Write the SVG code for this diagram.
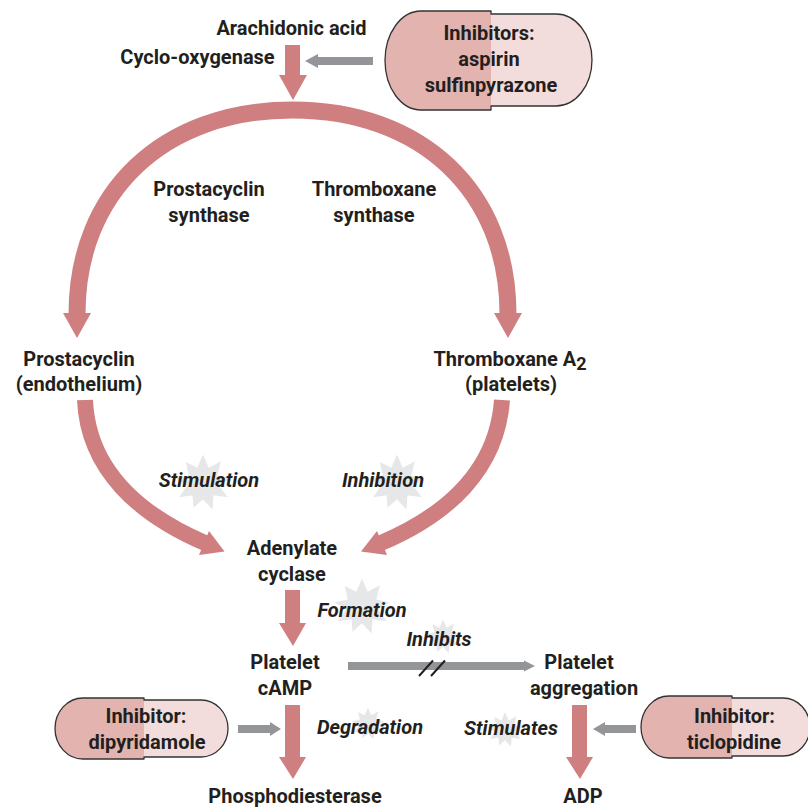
<svg xmlns="http://www.w3.org/2000/svg" width="808" height="811" viewBox="0 0 808 811">
  <style>
    text { font-family: Roboto, "Open Sans", "DejaVu Sans", sans-serif; font-weight: 700; font-size: 20px; fill: #231f20; text-anchor: middle; }
    .it { font-style: italic; }
    .red { fill: #cf7f7f; }
    .redline { fill: none; stroke: #cf7f7f; stroke-width: 17; }
    .gray { fill: #939598; }
    .star { fill: #e6e7e8; }
    .pillL { fill: #e3b4af; }
    .pillR { fill: #f3dddc; }
    .pillO { fill: none; stroke: #333333; stroke-width: 1.3; stroke-linejoin: round; }
    .slash { stroke: #231f20; stroke-width: 2; }
  </style>
  <defs>
    <polygon id="burst" points="0,-30 6,-16 19,-23 15,-8 29,-5 17,3 26,15 11,13 10,28 0,17 -10,26 -11,13 -25,15 -17,3 -29,-5 -15,-8 -18,-22 -6,-16"/>
  </defs>
  <rect width="808" height="811" fill="#ffffff"/>

  <!-- background bursts behind the effect labels -->
  <g id="bursts">
    <use href="#burst" class="star" transform="translate(203,483) scale(0.95)"/>
    <use href="#burst" class="star" transform="translate(397,483) scale(0.95)"/>
    <use href="#burst" class="star" transform="translate(362,607) scale(0.95)"/>
    <use href="#burst" class="star" transform="translate(443,637) scale(0.58)"/>
    <use href="#burst" class="star" transform="translate(368,724) scale(0.55)"/>
    <use href="#burst" class="star" transform="translate(505,730) scale(0.6)"/>
  </g>

  <!-- connectors -->
  <g id="connectors">
    <!-- arachidonic acid down to the synthase arc -->
    <rect class="red" x="285" y="45" width="15" height="31"/>
    <polygon class="red" points="279,75 307,75 293,100"/>
    <!-- arc splitting to prostacyclin and thromboxane -->
    <path class="redline" d="M77,314 C77,192 163,110 292.5,110 C422,110 508,192 508,314"/>
    <polygon class="red" points="63,313 91,313 77,338"/>
    <polygon class="red" points="494,313 522,313 508,338"/>
    <!-- prostacyclin to adenylate cyclase -->
    <path class="redline" style="stroke-width:16" d="M85,400 C88,470 140,515 205,543"/>
    <polygon class="red" points="209,531 199,555 224.5,551.5"/>
    <!-- thromboxane to adenylate cyclase -->
    <path class="redline" style="stroke-width:16" d="M502,400 C497,470 447,515 381,543"/>
    <polygon class="red" points="377,531 387,555 361,551.5"/>
    <!-- adenylate cyclase to cAMP -->
    <rect class="red" x="285" y="590" width="15" height="35"/>
    <polygon class="red" points="279,623 306,623 293,646"/>
    <!-- cAMP to phosphodiesterase -->
    <rect class="red" x="285" y="705" width="15" height="53"/>
    <polygon class="red" points="279,757 306,757 293,779"/>
    <!-- aggregation to ADP -->
    <rect class="red" x="572" y="705" width="15" height="53"/>
    <polygon class="red" points="566,757 593,757 580,779"/>
    <!-- inhibitor arrows -->
    <rect class="gray" x="317" y="57" width="56" height="8"/>
    <polygon class="gray" points="318,54 318,68 305,61"/>
    <rect class="gray" x="238" y="725" width="33" height="8"/>
    <polygon class="gray" points="270,722 270,736 281,729"/>
    <rect class="gray" x="604" y="725" width="32" height="8"/>
    <polygon class="gray" points="605,722 605,736 593,729"/>
    <!-- cAMP inhibits aggregation -->
    <rect class="gray" x="348" y="662" width="177" height="8"/>
    <polygon class="gray" points="524,660.5 524,671.5 535,666"/>
    <line class="slash" x1="419" y1="676" x2="433" y2="660.5"/>
    <line class="slash" x1="431" y1="676" x2="445" y2="660.5"/>
  </g>

  <!-- nodes -->
  <g id="arachidonic-acid"><text x="291.5" y="35">Arachidonic acid</text></g>
  <g id="cyclo-oxygenase"><text x="197.5" y="64">Cyclo-oxygenase</text></g>

  <g id="pill-aspirin">
    <path class="pillL" d="M491,11 H421 A36,49.5 0 0 0 421,110 H491 Z"/>
    <path class="pillR" d="M491,14 H556 A36,46 0 0 1 556,106 H491 Z"/>
    <path class="pillO" d="M491,11 H421 A36,49.5 0 0 0 421,110 H491 V106 H556 A36,46 0 0 0 556,14 H491 Z"/>
    <text x="489" y="40">Inhibitors:</text>
    <text x="489" y="66">aspirin</text>
    <text x="491" y="92">sulfinpyrazone</text>
  </g>

  <g id="prostacyclin-synthase">
    <text x="209" y="196">Prostacyclin</text>
    <text x="209" y="222">synthase</text>
  </g>
  <g id="thromboxane-synthase">
    <text x="374" y="196">Thromboxane</text>
    <text x="374" y="222">synthase</text>
  </g>

  <g id="prostacyclin">
    <text x="79" y="366">Prostacyclin</text>
    <text x="79" y="391">(endothelium)</text>
  </g>
  <g id="thromboxane">
    <text x="510" y="366">Thromboxane A<tspan dy="4" font-size="18">2</tspan></text>
    <text x="511" y="391">(platelets)</text>
  </g>

  <g id="label-stimulation"><text class="it" x="209" y="487">Stimulation</text></g>
  <g id="label-inhibition"><text class="it" x="383" y="487">Inhibition</text></g>

  <g id="adenylate-cyclase">
    <text x="292" y="555">Adenylate</text>
    <text x="292" y="581">cyclase</text>
  </g>

  <g id="label-formation"><text class="it" x="362" y="617">Formation</text></g>
  <g id="label-inhibits"><text class="it" x="439" y="646">Inhibits</text></g>

  <g id="platelet-camp">
    <text x="285" y="669">Platelet</text>
    <text x="285" y="695">cAMP</text>
  </g>
  <g id="platelet-aggregation">
    <text x="579" y="669">Platelet</text>
    <text x="584" y="695">aggregation</text>
  </g>

  <g id="pill-dipyridamole">
    <path class="pillL" d="M144,698 H83 A28,30.5 0 0 0 83,759 H144 Z"/>
    <path class="pillR" d="M144,700 H201 A27,28.5 0 0 1 201,757 H144 Z"/>
    <path class="pillO" d="M144,698 H83 A28,30.5 0 0 0 83,759 H144 V757 H201 A27,28.5 0 0 0 201,700 H144 Z"/>
    <text x="146" y="723">Inhibitor:</text>
    <text x="147" y="749">dipyridamole</text>
  </g>

  <g id="label-degradation"><text class="it" x="370" y="734">Degradation</text></g>
  <g id="label-stimulates"><text class="it" x="511" y="735">Stimulates</text></g>

  <g id="pill-ticlopidine">
    <path class="pillL" d="M732,696 H669 A28,31 0 0 0 669,758 H732 Z"/>
    <path class="pillR" d="M732,698 H783 A27,29 0 0 1 783,756 H732 Z"/>
    <path class="pillO" d="M732,696 H669 A28,31 0 0 0 669,758 H732 V756 H783 A27,29 0 0 0 783,698 H732 Z"/>
    <text x="734.5" y="723">Inhibitor:</text>
    <text x="734" y="749">ticlopidine</text>
  </g>

  <g id="phosphodiesterase"><text x="295" y="803">Phosphodiesterase</text></g>
  <g id="adp"><text x="583" y="803">ADP</text></g>
</svg>
